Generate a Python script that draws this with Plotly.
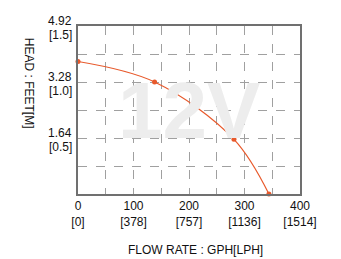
import plotly.graph_objects as go

flow_gph = [0, 138, 281, 344]
head_ft = [3.88, 3.28, 1.60, 0.0]

x_ticks = [0, 50, 100, 150, 200, 250, 300, 350, 400]
x_text = ["0<br>[0]", "", "100<br>[378]", "", "200<br>[757]", "", "300<br>[1136]", "", "400<br>[1514]"]
y_ticks = [0, 0.82, 1.64, 2.46, 3.28, 4.10, 4.92]
y_label_vals = [1.64, 3.28, 4.92]
y_label_ft = ["1.64", "3.28", "4.92"]
y_label_m = ["[0.5]", "[1.0]", "[1.5]"]

FONT = "Liberation Sans, Arial"
TXT = "#111111"

fig = go.Figure()
fig.add_trace(go.Scatter(
    x=flow_gph, y=head_ft, mode="lines+markers",
    line=dict(color="#E8592B", width=1.2, shape="spline", smoothing=1.0),
    marker=dict(color="#E8592B", size=5),
    cliponaxis=False, showlegend=False,
))

fig.add_annotation(text="<b>12V</b>", x=0.5, y=0.5, xref="x domain", yref="y domain",
                   xanchor="center", yanchor="middle", showarrow=False,
                   font=dict(family=FONT, size=80, color="#EDEDED"))
fig.add_annotation(text="HEAD : FEET[M]", xref="x domain", yref="y domain",
                   x=-0.26, y=0.66, showarrow=False, textangle=90,
                   font=dict(family=FONT, size=12, color=TXT))
fig.add_annotation(text="FLOW RATE : GPH[LPH]", xref="x domain", yref="y domain",
                   x=0.53, y=-0.333, yanchor="middle", showarrow=False,
                   font=dict(family=FONT, size=12, color=TXT))

for v, ft, m in zip(y_label_vals, y_label_ft, y_label_m):
    fig.add_annotation(text=ft, xref="x domain", yref="y", x=0, y=v, xanchor="right",
                       yanchor="bottom", xshift=-5, yshift=-3, showarrow=False, borderpad=0,
                       font=dict(family=FONT, size=12, color=TXT))
    fig.add_annotation(text=m, xref="x domain", yref="y", x=0, y=v, xanchor="right",
                       yanchor="top", xshift=-5, yshift=-1, showarrow=False, borderpad=0,
                       font=dict(family=FONT, size=12, color=TXT))

axis_common = dict(showline=True, linecolor="#707070", linewidth=2, mirror=True,
                   showgrid=True, gridcolor="#A0A0A0", griddash="dash", gridwidth=1,
                   zeroline=False, ticks="",
                   tickfont=dict(family=FONT, size=12, color=TXT))
fig.update_xaxes(range=[0, 400], tickvals=x_ticks, ticktext=x_text, **axis_common)
fig.update_yaxes(range=[0, 4.92], tickvals=y_ticks, showticklabels=False, **axis_common)

fig.update_layout(width=341, height=259, margin=dict(l=78, r=41, t=26, b=65),
                  plot_bgcolor="white", paper_bgcolor="white",
                  font=dict(family=FONT, size=12))
fig.write_html("out.html")
